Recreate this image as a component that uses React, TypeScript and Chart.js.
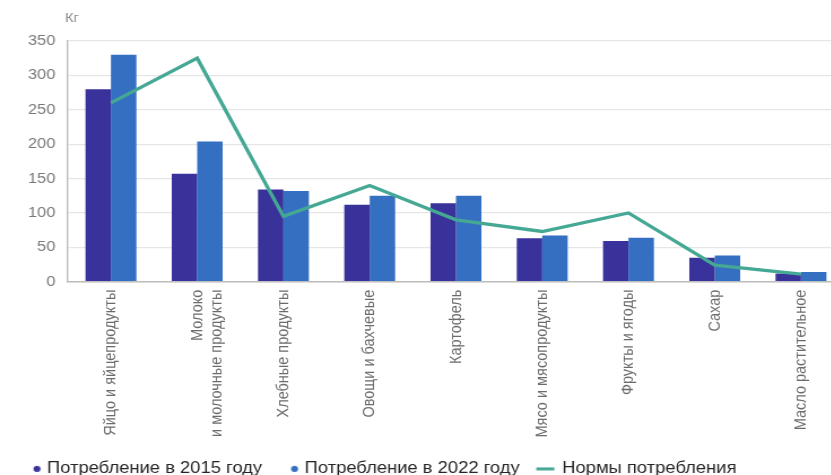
import React, { useEffect, useRef } from "react";
import { Chart, registerables } from "chart.js";

Chart.register(...registerables);

const categories: (string | string[])[] = [
  "Яйцо и яйцепродукты",
  ["Молоко", "и молочные продукты"],
  "Хлебные продукты",
  "Овощи и бахчевые",
  "Картофель",
  "Мясо и мясопродукты",
  "Фрукты и ягоды",
  "Сахар",
  "Масло растительное",
];
const consumption2015 = [280, 157, 134, 112, 114, 63, 59, 35, 12];
const consumption2022 = [330, 204, 132, 125, 125, 67, 64, 38, 14];
const consumptionNorms = [260, 325, 95, 140, 90, 73, 100, 24, 11];
const yTicks = [0, 50, 100, 150, 200, 250, 300, 350];
const unitLabel = "Кг";
const seriesNames = ["Потребление в 2015 году", "Потребление в 2022 году", "Нормы потребления"];

const C2015 = "#38329A";
const C2022 = "#346FC2";
const CNORM = "#45A894";
const FONT = "'Liberation Sans', Arial, sans-serif";
const SX = 1.13; // horizontal stretch of the reference rendering
const CW = 748;
const CH = 487;
const BOX = 17.4;

function dotImage(color: string) {
  const c = document.createElement("canvas");
  c.width = 24;
  c.height = 8;
  const ctx = c.getContext("2d")!;
  ctx.fillStyle = color;
  ctx.beginPath();
  ctx.arc(20, 4, 3.1, 0, Math.PI * 2);
  ctx.fill();
  return c;
}
function lineImage(color: string) {
  const c = document.createElement("canvas");
  c.width = 22;
  c.height = 4;
  const ctx = c.getContext("2d")!;
  ctx.fillStyle = color;
  ctx.fillRect(4.9, 0.5, 16, 3);
  return c;
}

export default function App() {
  const ref = useRef<HTMLCanvasElement>(null);
  useEffect(() => {
    if (!ref.current) return;
    const images = [dotImage(C2015), dotImage(C2022), lineImage(CNORM)];
    const unitPlugin = {
      id: "unitLabel",
      afterLayout(chart: any) {
        if (chart.legend) {
          chart.legend.left += 4;
        }
      },
      afterDraw(chart: any) {
        const ctx = chart.ctx;
        ctx.save();
        ctx.font = `13px ${FONT}`;
        ctx.fillStyle = "#8a8a8a";
        ctx.textAlign = "left";
        ctx.textBaseline = "alphabetic";
        ctx.fillText(unitLabel, 57.5, 22);
        ctx.restore();
      },
    };
    const chart = new Chart(ref.current, {
      type: "bar",
      data: {
        labels: categories,
        datasets: [
          {
            type: "line",
            label: seriesNames[2],
            data: consumptionNorms,
            borderColor: CNORM,
            backgroundColor: CNORM,
            borderWidth: 3.3,
            pointRadius: 0,
            tension: 0,
            order: 0,
          } as any,
          {
            type: "bar",
            label: seriesNames[0],
            data: consumption2015,
            backgroundColor: C2015,
            categoryPercentage: 0.59,
            barPercentage: 1,
            order: 1,
          },
          {
            type: "bar",
            label: seriesNames[1],
            data: consumption2022,
            backgroundColor: C2022,
            categoryPercentage: 0.59,
            barPercentage: 1,
            order: 1,
          },
        ],
      },
      options: {
        responsive: false,
        animation: false,
        devicePixelRatio: 1,
        layout: { padding: { top: 41, right: 1, left: 0, bottom: 0 } },
        plugins: {
          tooltip: { enabled: false },
          legend: {
            position: "bottom",
            align: "start",
            labels: {
              usePointStyle: true,
              pointStyleWidth: BOX,
              padding: 12,
              color: "#262626",
              font: { family: FONT, size: 16.3 },
              generateLabels: () =>
                [0, 1, 2].map((i) => ({
                  text: seriesNames[i],
                  pointStyle: images[i] as any,
                  fillStyle: "transparent",
                  strokeStyle: "transparent",
                  lineWidth: 0,
                  hidden: false,
                  datasetIndex: i === 2 ? 0 : i + 1,
                  fontColor: "#262626",
                })),
            },
          },
        },
        scales: {
          x: {
            grid: { display: false, drawTicks: false },
            border: { color: "#bdbdbd", width: 1.5 },
            ticks: {
              autoSkip: false,
              maxRotation: 90,
              minRotation: 90,
              padding: 8,
              color: "#6b6b6b",
              font: { family: FONT, size: 14.5 },
            },
            afterFit: (s: any) => {
              s.height = 167;
            },
          },
          y: {
            min: 0,
            max: 350,
            afterBuildTicks: (s: any) => {
              s.ticks = yTicks.map((v) => ({ value: v }));
            },
            grid: { color: "#e6e6e6", drawTicks: false, lineWidth: 1.2 },
            border: { color: "#bdbdbd", width: 1.4 },
            ticks: {
              padding: 11,
              color: "#7a7a7a",
              font: { family: FONT, size: 14.5 },
            },
            afterFit: (s: any) => {
              s.width = 60;
            },
          },
        },
      },
      plugins: [unitPlugin],
    });
    return () => chart.destroy();
  }, []);
  return (
    <div style={{ position: "absolute", left: 0, top: 0, width: 831, height: 475, overflow: "hidden", background: "#fff" }}>
      <div style={{ width: CW, height: CH, transform: `scaleX(${SX})`, transformOrigin: "0 0" }}>
        <canvas ref={ref} width={CW} height={CH} style={{ width: CW, height: CH, display: "block" }} />
      </div>
    </div>
  );
}
